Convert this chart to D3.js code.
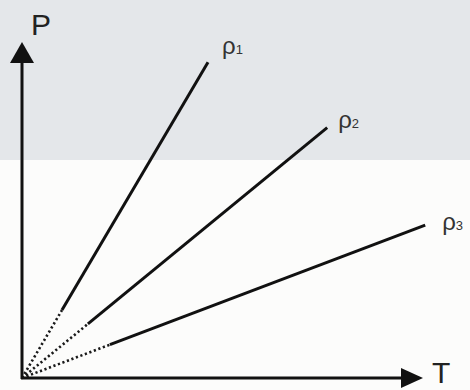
<!DOCTYPE html>
<html>
<head>
<meta charset="utf-8">
<script src="https://cdn.jsdelivr.net/npm/d3@7"></script>
<style>
  body { margin: 0; background: #fcfcfc; }
  svg { display: block; }
</style>
</head>
<body>
<div id="chart-area"></div>
<script>
// P-T isochores for three densities
var labels = ["ρ1", "ρ2", "ρ3"];
var tEnd = [46.5, 76.3, 100.8];   // T at end of each line
var pEnd = [94, 74.5, 45.5];      // P at end of each line
var dotFrac = [0.215, 0.216, 0.218]; // part of line drawn dotted (near origin)

var width = 470, height = 390;

var x = d3.scaleLinear().domain([0, 100]).range([22, 422]);
var y = d3.scaleLinear().domain([0, 100]).range([378, 42]);

// label nudges from the line end (px)
var labelNudge = [[14, -8], [11, 0], [17, 5]];

var svg = d3.select("#chart-area")
    .append("svg")
        .attr("width", width)
        .attr("height", height);

// background: grey band on top
svg.append("rect")
    .attr("x", 0).attr("y", 0)
    .attr("width", width).attr("height", 160)
    .attr("fill", "#e4e7ea");
svg.append("rect")
    .attr("x", 0).attr("y", 160)
    .attr("width", width).attr("height", height - 160)
    .attr("fill", "#fcfcfb");

var data = labels.map(function(l, i) {
    return { label: l, t: tEnd[i], p: pEnd[i], f: dotFrac[i], n: labelNudge[i] };
});

// dotted part
svg.selectAll(".dot-part")
    .data(data)
    .enter().append("line")
        .attr("class", "dot-part")
        .attr("x1", x(0)).attr("y1", y(0))
        .attr("x2", d => x(d.t * d.f))
        .attr("y2", d => y(d.p * d.f))
        .attr("stroke", "#1a1a1a")
        .attr("stroke-width", 2.6)
        .attr("stroke-dasharray", "2.2,2.6");

// solid part
svg.selectAll(".solid-part")
    .data(data)
    .enter().append("line")
        .attr("class", "solid-part")
        .attr("x1", d => x(d.t * d.f))
        .attr("y1", d => y(d.p * d.f))
        .attr("x2", d => x(d.t))
        .attr("y2", d => y(d.p))
        .attr("stroke", "#111")
        .attr("stroke-width", 3);

// labels
var lab = svg.selectAll(".lab")
    .data(data)
    .enter().append("text")
        .attr("class", "lab")
        .attr("x", d => x(d.t) + d.n[0])
        .attr("y", d => y(d.p) + d.n[1])
        .attr("font-family", "Liberation Sans, Arial, sans-serif")
        .attr("font-size", "24px")
        .attr("fill", "#333");
lab.append("tspan").text(d => d.label.charAt(0));
lab.append("tspan")
    .attr("font-size", "13px")
    .text(d => d.label.slice(1));

// axes
svg.append("line")
    .attr("x1", x(0)).attr("y1", y(0) + 1)
    .attr("x2", x(0)).attr("y2", 60)
    .attr("stroke", "#111").attr("stroke-width", 3);
svg.append("path")
    .attr("d", "M" + x(0) + ",42 L" + (x(0) - 12) + ",63 L" + (x(0) + 12) + ",63 Z")
    .attr("fill", "#111");

svg.append("line")
    .attr("x1", x(0) - 1).attr("y1", y(0))
    .attr("x2", 404).attr("y2", y(0))
    .attr("stroke", "#111").attr("stroke-width", 3);
svg.append("path")
    .attr("d", "M423," + y(0) + " L401," + (y(0) - 10) + " L401," + (y(0) + 10) + " Z")
    .attr("fill", "#111");

// axis labels
svg.append("text")
    .attr("x", 31).attr("y", 35)
    .attr("font-family", "Liberation Sans, Arial, sans-serif")
    .attr("font-size", "30px")
    .attr("fill", "#222")
    .text("P");
svg.append("text")
    .attr("x", 432).attr("y", 383)
    .attr("font-family", "Liberation Sans, Arial, sans-serif")
    .attr("font-size", "30px")
    .attr("fill", "#222")
    .text("T");
</script>
</body>
</html>
